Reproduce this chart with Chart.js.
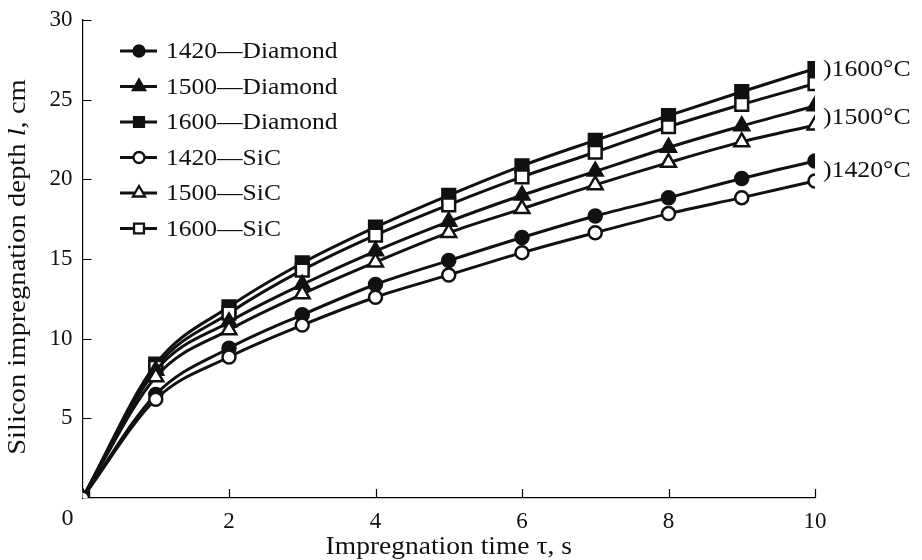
<!DOCTYPE html>
<html>
<head>
<meta charset="utf-8">
<script src="https://cdn.jsdelivr.net/npm/chart.js@4/dist/chart.umd.min.js"></script>
<style>
  html, body { margin: 0; padding: 0; background: #fff; }
  #wrap { width: 922px; height: 560px; }
</style>
</head>
<body>
<div id="wrap"><canvas id="myChart" width="922" height="560"></canvas></div>
<script>
// impregnation time, s
const tiempo = [0, 1, 2, 3, 4, 5, 6, 7, 8, 9, 10];

// depth l, cm
const diamond1420 = [0, 6.5, 9.4, 11.5, 13.4, 14.9, 16.35, 17.7, 18.85, 20.05, 21.15];
const diamond1500 = [0, 8.0, 11.05, 13.4, 15.5, 17.35, 19.0, 20.5, 22.0, 23.35, 24.6];
const diamond1600 = [0, 8.4, 12.0, 14.75, 17.0, 19.0, 20.85, 22.45, 24.0, 25.5, 26.95];
const sic1420 = [0, 6.2, 8.85, 10.85, 12.6, 14.0, 15.4, 16.65, 17.85, 18.85, 19.9];
const sic1500 = [0, 7.6, 10.55, 12.8, 14.8, 16.65, 18.15, 19.65, 21.05, 22.35, 23.4];
const sic1600 = [0, 8.2, 11.6, 14.3, 16.5, 18.4, 20.15, 21.7, 23.3, 24.7, 26.0];

const etiquetas = ['1420\u2014Diamond', '1500\u2014Diamond', '1600\u2014Diamond', '1420\u2014SiC', '1500\u2014SiC', '1600\u2014SiC'];
const temperaturas = ['1600\u00B0C', '1500\u00B0C', '1420\u00B0C'];
const xTicks = [0, 2, 4, 6, 8, 10];
const yTicks = [5, 10, 15, 20, 25, 30];

const fuente = '"Liberation Serif", "Times New Roman", serif';
const negro = '#111';

function serie (label, valores, estilo, lleno) {
  return {
    label: label,
    data: valores.map((v, i) => ({ x: tiempo[i], y: v })),
    borderColor: negro,
    borderWidth: 3,
    pointStyle: estilo,
    pointRadius: estilo === 'circle' ? 6.5 : (estilo === 'rect' ? 9 : 8.5),
    pointBorderWidth: 2.5,
    pointBorderColor: negro,
    pointBackgroundColor: lleno ? negro : '#fff',
    cubicInterpolationMode: 'monotone',
    fill: false
  };
}

const datasets = [
  serie(etiquetas[3], sic1420, 'circle', false),
  serie(etiquetas[0], diamond1420, 'circle', true),
  serie(etiquetas[4], sic1500, 'triangle', false),
  serie(etiquetas[1], diamond1500, 'triangle', true),
  serie(etiquetas[5], sic1600, 'rect', false),
  serie(etiquetas[2], diamond1600, 'rect', true)
];

// legend rows in the order of the original figure
const ordenLeyenda = [1, 3, 5, 0, 2, 4];

// text a bit wider than Liberation Serif, like the scanned figure
function texto (ctx, partes, x, y, size, stretch, align) {
  ctx.save();
  ctx.textBaseline = 'middle';
  ctx.textAlign = 'left';
  let ancho = 0;
  partes.forEach(p => { ctx.font = (p[1] || '') + size + 'px ' + fuente; ancho += ctx.measureText(p[0]).width; });
  ctx.translate(x, y);
  ctx.scale(stretch, 1);
  let cx = align === 'center' ? -ancho / 2 : 0;
  partes.forEach(p => {
    ctx.font = (p[1] || '') + size + 'px ' + fuente;
    ctx.fillText(p[0], cx, 0);
    cx += ctx.measureText(p[0]).width;
  });
  ctx.restore();
}

const extras = {
  id: 'extras',
  afterDraw (chart) {
    const ctx = chart.ctx;
    const area = chart.chartArea;
    const xs = chart.scales.x;
    const ys = chart.scales.y;
    ctx.save();

    // inward tick marks
    ctx.strokeStyle = '#000';
    ctx.lineWidth = 1.2;
    ctx.beginPath();
    xTicks.forEach(t => {
      if (t === 0) return;
      const px = Math.round(xs.getPixelForValue(t)) + 0.5;
      ctx.moveTo(px, area.bottom);
      ctx.lineTo(px, area.bottom - 9);
    });
    yTicks.forEach(t => {
      const py = Math.round(ys.getPixelForValue(t)) + 0.5;
      ctx.moveTo(area.left, py);
      ctx.lineTo(area.left + 9, py);
    });
    ctx.stroke();

    ctx.fillStyle = negro;
    // origin label
    texto(ctx, [['0']], area.left - 15, area.bottom + 21, 23, 1.05, 'center');

    // x axis title
    texto(ctx, [['Impregnation time \u03C4, s']], (area.left + area.right) / 2, 547, 25, 1.1, 'center');

    // y axis title with italic l
    ctx.save();
    ctx.translate(18, 267);
    ctx.rotate(-Math.PI / 2);
    texto(ctx, [['Silicon impregnation depth '], ['l', 'italic '], [', cm']], 0, 0, 26, 1.1, 'center');
    ctx.restore();

    // legend
    ordenLeyenda.forEach((idx, fila) => {
      const ds = chart.data.datasets[idx];
      const y = 51 + fila * 35.5;
      ctx.strokeStyle = negro;
      ctx.lineWidth = 3;
      ctx.beginPath();
      ctx.moveTo(120, y);
      ctx.lineTo(157, y);
      ctx.stroke();
      ctx.fillStyle = ds.pointBackgroundColor;
      ctx.lineWidth = 2.3;
      Chart.helpers.drawPoint(ctx, {
        pointStyle: ds.pointStyle,
        radius: ds.pointStyle === 'circle' ? 5.5 : 7,
        rotation: 0,
        borderWidth: 2.3
      }, 139, y);
      ctx.fillStyle = negro;
      texto(ctx, [[ds.label]], 166, y + 1, 23, 1.11, 'left');
    });

    // temperature brackets on the right
    const pares = [[5, 4], [3, 2], [1, 0]];
    const ajuste = [-6, 2, 0];
    const ultimo = tiempo.length - 1;
    pares.forEach((par, i) => {
      const a = chart.data.datasets[par[0]].data[ultimo].y;
      const b = chart.data.datasets[par[1]].data[ultimo].y;
      const py = ys.getPixelForValue((a + b) / 2) + ajuste[i];
      texto(ctx, [[')' + temperaturas[i]]], xs.getPixelForValue(10) + 8, py, 23, 1.12, 'left');
    });
    ctx.restore();
  }
};

const ctx = document.getElementById('myChart').getContext('2d');
const myChart = new Chart(ctx, {
  type: 'line',
  data: { datasets: datasets },
  options: {
    responsive: false,
    animation: false,
    layout: { padding: { left: 0, right: 107, top: 20, bottom: 0 } },
    plugins: { legend: { display: false }, tooltip: { enabled: false } },
    scales: {
      x: {
        type: 'linear',
        min: 0,
        max: 10,
        afterFit: s => { s.height = 62; },
        afterBuildTicks: s => { s.ticks = xTicks.map(v => ({ value: v })); },
        grid: { display: false },
        border: { display: true, color: '#000', width: 1.2 },
        ticks: {
          color: negro,
          font: { family: fuente, size: 23 },
          padding: 2,
          callback: v => (v === 0 ? '' : v)
        }
      },
      y: {
        min: 0,
        max: 30,
        afterFit: s => { s.width = 82.5; },
        afterBuildTicks: s => { s.ticks = [0].concat(yTicks).map(v => ({ value: v })); },
        grid: { display: false },
        border: { display: true, color: '#000', width: 1.2 },
        ticks: {
          color: negro,
          font: { family: fuente, size: 23 },
          padding: 2,
          callback: v => (v === 0 ? '' : v)
        }
      }
    }
  },
  plugins: [extras]
});
</script>
</body>
</html>
